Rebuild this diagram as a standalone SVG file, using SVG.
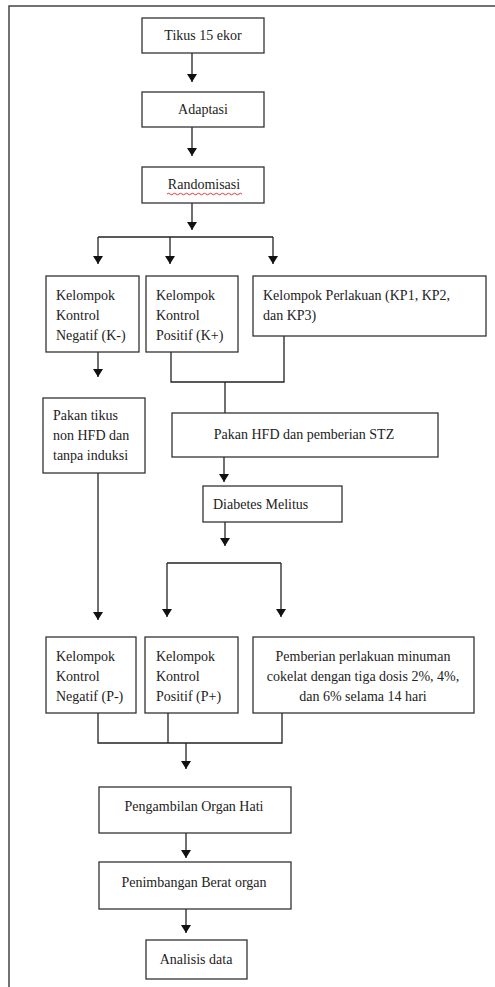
<svg xmlns="http://www.w3.org/2000/svg" width="495" height="987" viewBox="0 0 495 987">
<style>
.box{fill:#fff;stroke:#333;stroke-width:1.3}
.t{font-family:"Times New Roman","Liberation Serif","DejaVu Serif",serif;font-size:14px;fill:#222}
.c{text-anchor:middle}
.ln{fill:none;stroke:#222;stroke-width:1.3}
</style>
<defs>
<marker id="ah" viewBox="0 0 8 10" refX="8" refY="5" markerWidth="8" markerHeight="10" markerUnits="userSpaceOnUse" orient="auto">
<path d="M0,0 L8,5 L0,10 Z" fill="#111"/>
</marker>
</defs>
<rect width="495" height="987" fill="#fff"/>
<path d="M495,6 H9 V987" fill="none" stroke="#444" stroke-width="1.5"/>
<g id="connectors">
<path class="ln" d="M192,53 V82" marker-end="url(#ah)"/>
<path class="ln" d="M192,127 V156" marker-end="url(#ah)"/>
<path class="ln" d="M192,203 V230" marker-end="url(#ah)"/>
<path class="ln" d="M98,237 H273"/>
<path class="ln" d="M98,237 V264" marker-end="url(#ah)"/>
<path class="ln" d="M170,237 V264" marker-end="url(#ah)"/>
<path class="ln" d="M273,237 V264" marker-end="url(#ah)"/>
<path class="ln" d="M98,352 V377" marker-end="url(#ah)"/>
<path class="ln" d="M171,352 V382 H284 V336"/>
<path class="ln" d="M225,382 V413"/>
<path class="ln" d="M224,457 V482" marker-end="url(#ah)"/>
<path class="ln" d="M98,473 V620" marker-end="url(#ah)"/>
<path class="ln" d="M225,522 V546" marker-end="url(#ah)"/>
<path class="ln" d="M167,563 H281"/>
<path class="ln" d="M167,563 V617" marker-end="url(#ah)"/>
<path class="ln" d="M281,563 V617" marker-end="url(#ah)"/>
<path class="ln" d="M98,713 V743 H282 V713"/>
<path class="ln" d="M168,713 V743"/>
<path class="ln" d="M186,743 V769" marker-end="url(#ah)"/>
<path class="ln" d="M186,833 V858" marker-end="url(#ah)"/>
<path class="ln" d="M186,909 V933" marker-end="url(#ah)"/>
</g>
<g id="n-tikus"><rect class="box" x="142" y="18" width="122" height="35"/><text class="t c" x="203" y="40">Tikus 15 ekor</text></g>
<g id="n-adaptasi"><rect class="box" x="142" y="92" width="122" height="35"/><text class="t c" x="203" y="114">Adaptasi</text></g>
<g id="n-random"><rect class="box" x="142" y="167" width="122" height="36"/><text class="t c" x="204" y="189">Randomisasi</text>
<path d="M167,194 q1.5,-1.5 3,0 t3,0 t3,0 t3,0 t3,0 t3,0 t3,0 t3,0 t3,0 t3,0 t3,0 t3,0 t3,0 t3,0 t3,0 t3,0 t3,0 t3,0 t3,0 t3,0 t3,0 t3,0 t3,0 t3,0 t3,0" fill="none" stroke="#d22" stroke-width="0.9"/></g>
<g id="n-kneg"><rect class="box" x="46" y="276" width="93" height="76"/><text class="t" x="56" y="300">Kelompok</text><text class="t" x="56" y="320">Kontrol</text><text class="t" x="56" y="340">Negatif (K-)</text></g>
<g id="n-kpos"><rect class="box" x="146" y="276" width="92" height="76"/><text class="t" x="156" y="300">Kelompok</text><text class="t" x="156" y="320">Kontrol</text><text class="t" x="156" y="340">Positif (K+)</text></g>
<g id="n-kp"><rect class="box" x="253" y="276" width="233" height="60"/><text class="t" x="263" y="300">Kelompok Perlakuan (KP1, KP2,</text><text class="t" x="263" y="320">dan KP3)</text></g>
<g id="n-pakantikus"><rect class="box" x="43" y="398" width="102" height="75"/><text class="t" x="53" y="420">Pakan tikus</text><text class="t" x="53" y="440">non HFD dan</text><text class="t" x="53" y="460">tanpa induksi</text></g>
<g id="n-hfd"><rect class="box" x="172" y="413" width="266" height="44"/><text class="t c" x="304" y="439">Pakan HFD dan pemberian STZ</text></g>
<g id="n-dm"><rect class="box" x="203" y="486" width="139" height="36"/><text class="t" x="213" y="509">Diabetes Melitus</text></g>
<g id="n-pneg"><rect class="box" x="46" y="637" width="90" height="76"/><text class="t" x="56" y="661">Kelompok</text><text class="t" x="56" y="681">Kontrol</text><text class="t" x="56" y="701">Negatif (P-)</text></g>
<g id="n-ppos"><rect class="box" x="145" y="637" width="93" height="76"/><text class="t" x="156" y="661">Kelompok</text><text class="t" x="156" y="681">Kontrol</text><text class="t" x="156" y="701">Positif (P+)</text></g>
<g id="n-pemberian"><rect class="box" x="253" y="637" width="221" height="76"/><text class="t c" x="363" y="661">Pemberian perlakuan minuman</text><text class="t c" x="363" y="681">cokelat dengan tiga dosis 2%, 4%,</text><text class="t c" x="363" y="701">dan 6% selama 14 hari</text></g>
<g id="n-organ"><rect class="box" x="99" y="787" width="192" height="46"/><text class="t c" x="194" y="811">Pengambilan Organ Hati</text></g>
<g id="n-timbang"><rect class="box" x="99" y="862" width="192" height="47"/><text class="t c" x="194" y="887">Penimbangan Berat organ</text></g>
<g id="n-analisis"><rect class="box" x="146" y="940" width="101" height="39"/><text class="t c" x="196" y="964">Analisis data</text></g>
</svg>
